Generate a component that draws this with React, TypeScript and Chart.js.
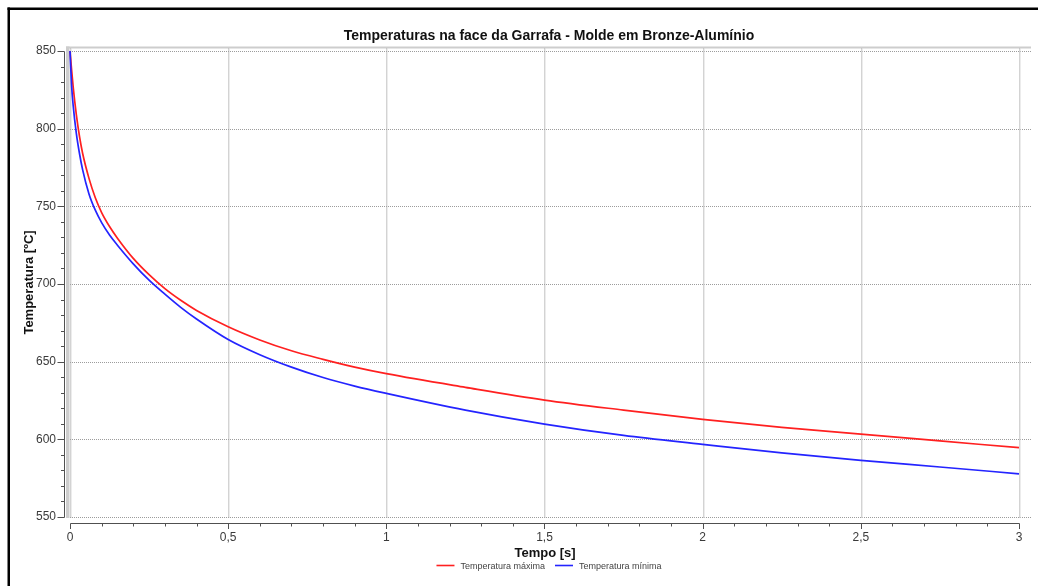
import React, { useEffect, useRef } from "react";
import { Chart, registerables } from "chart.js";

Chart.register(...registerables);

// ---- data ----
const timeS = [0, 0.005, 0.01, 0.02, 0.03, 0.04, 0.06, 0.08, 0.1, 0.125, 0.15, 0.2, 0.25, 0.3, 0.35, 0.4, 0.5, 0.6, 0.7, 0.8, 0.9, 1.0, 1.25, 1.5, 1.75, 2.0, 2.25, 2.5, 2.75, 3.0];
const tempMaxima = [850, 838, 827, 809, 795, 784, 768, 755.5, 746, 737, 729.5, 716.5, 706, 697, 689.5, 683, 672.5, 664, 657, 651.5, 646.5, 642.3, 633.5, 625.3, 618.8, 612.8, 607.7, 603.4, 599, 594.6];
const tempMinima = [850, 828, 815, 797, 784, 773.5, 758, 747.5, 739.5, 731.5, 725, 713, 702.5, 693.5, 685, 677.5, 664.3, 654.5, 646.5, 639.8, 634.3, 629.6, 618.8, 609.8, 602.5, 596.8, 591.3, 586.5, 582.2, 577.8];

const xTicks = [0, 0.5, 1, 1.5, 2, 2.5, 3];
const yTicks = [550, 600, 650, 700, 750, 800, 850];
const xMinorStep = 0.1;
const yMinorStep = 10;

const titleText = "Temperaturas na face da Garrafa - Molde em Bronze-Alumínio";
const xTitle = "Tempo [s]";
const yTitle = "Temperatura [ºC]";
const seriesNames = ["Temperatura máxima", "Temperatura mínima"];
const seriesColors = ["#ff2020", "#2424ff"];

const FONT = "'Liberation Sans', Arial, sans-serif";

const decoPlugin = {
  id: "deco",
  beforeDatasetsDraw(chart: any) {
    const { ctx, chartArea: a, scales } = chart;
    const x = scales.x;
    const y = scales.y;
    ctx.save();
    // frame (left bar + top bar)
    ctx.fillStyle = "#cdcdcd";
    ctx.fillRect(a.left - 1, a.top - 0.5, 3.5, a.bottom - a.top + 0.5);
    ctx.fillRect(a.left - 1, a.top - 0.5, a.right - a.left + 1, 2);
    // dotted grid
    ctx.strokeStyle = "#9c9c9c";
    ctx.lineWidth = 1;
    ctx.setLineDash([1, 1]);
    for (const v of yTicks) {
      const py = Math.round(y.getPixelForValue(v)) + 0.5;
      ctx.beginPath();
      ctx.moveTo(a.left + 3, py);
      ctx.lineTo(a.right, py);
      ctx.stroke();
    }
    for (const v of xTicks) {
      const px = Math.round(x.getPixelForValue(v)) + 0.5;
      ctx.strokeStyle = "#a8a8a8";
      ctx.beginPath();
      ctx.moveTo(px, a.top + 1.5);
      ctx.lineTo(px, a.bottom);
      ctx.stroke();
      ctx.strokeStyle = "#dadada";
      ctx.beginPath();
      ctx.moveTo(px + 1, a.top + 1.5);
      ctx.lineTo(px + 1, a.bottom);
      ctx.stroke();
    }
    ctx.restore();
  },
  afterDraw(chart: any) {
    const { ctx, chartArea: a, scales } = chart;
    const x = scales.x;
    const y = scales.y;
    ctx.save();
    ctx.setLineDash([]);
    ctx.strokeStyle = "#505050";
    ctx.lineWidth = 1;
    // y axis
    const ax = a.left - 2.5;
    const yTop = Math.round(y.getPixelForValue(yTicks[yTicks.length - 1])) + 0.5;
    const yBot = Math.round(y.getPixelForValue(yTicks[0])) + 0.5;
    ctx.beginPath();
    ctx.moveTo(ax, yTop);
    ctx.lineTo(ax, yBot);
    for (let v = yTicks[0]; v <= yTicks[yTicks.length - 1] + 0.001; v += yMinorStep) {
      const py = Math.round(y.getPixelForValue(v)) + 0.5;
      const major = Math.abs(v % 50) < 0.001;
      ctx.moveTo(ax - (major ? 7 : 3.5), py);
      ctx.lineTo(ax, py);
    }
    ctx.stroke();
    // x axis
    const ay = a.bottom + 5.5;
    const xL = Math.round(x.getPixelForValue(xTicks[0])) + 0.5;
    const xR = Math.round(x.getPixelForValue(xTicks[xTicks.length - 1])) + 0.5;
    ctx.beginPath();
    ctx.moveTo(xL, ay);
    ctx.lineTo(xR, ay);
    for (let i = 0; i <= 30; i++) {
      const v = i * xMinorStep;
      const px = Math.round(x.getPixelForValue(v)) + 0.5;
      const major = i % 5 === 0;
      ctx.moveTo(px, ay);
      ctx.lineTo(px, ay + (major ? 5.5 : 3));
    }
    ctx.stroke();

    // outer black border (cropped on right/bottom)
    ctx.fillStyle = "#000";
    ctx.fillRect(7.5, 7.5, 1040, 2.5);
    ctx.fillRect(7.5, 7.5, 2.5, 600);

    // title
    ctx.fillStyle = "#111";
    ctx.textAlign = "center";
    ctx.textBaseline = "alphabetic";
    ctx.font = `bold 14px ${FONT}`;
    ctx.fillText(titleText, (a.left + a.right) / 2, 40);

    // x title
    ctx.font = `bold 13px ${FONT}`;
    ctx.fillText(xTitle, (xL + xR) / 2, 556.5);

    // y title
    ctx.save();
    ctx.translate(32.5, (yTop + yBot) / 2 - 2);
    ctx.rotate(-Math.PI / 2);
    ctx.fillText(yTitle, 0, 0);
    ctx.restore();

    // legend
    ctx.font = `9px ${FONT}`;
    ctx.textAlign = "left";
    const lineW = 18;
    const gapLT = 6;
    const gapItems = 10;
    const widths = seriesNames.map((n) => ctx.measureText(n).width);
    const total = widths.reduce((s, w) => s + lineW + gapLT + w, 0) + gapItems;
    let cx = (a.left + a.right) / 2 - total / 2;
    seriesNames.forEach((n, i) => {
      ctx.strokeStyle = seriesColors[i];
      ctx.lineWidth = 1.6;
      ctx.beginPath();
      ctx.moveTo(cx, 565.5);
      ctx.lineTo(cx + lineW, 565.5);
      ctx.stroke();
      ctx.fillStyle = "#444";
      ctx.fillText(n, cx + lineW + gapLT, 569);
      cx += lineW + gapLT + widths[i] + gapItems;
    });
    ctx.restore();
  },
};

export default function App() {
  const ref = useRef<HTMLCanvasElement>(null);
  useEffect(() => {
    const maxPts = timeS.map((t, i) => ({ x: t, y: tempMaxima[i] }));
    const minPts = timeS.map((t, i) => ({ x: t, y: tempMinima[i] }));
    const chart = new Chart(ref.current as HTMLCanvasElement, {
      type: "line",
      data: {
        datasets: [
          {
            label: seriesNames[0],
            data: maxPts,
            borderColor: seriesColors[0],
            backgroundColor: seriesColors[0],
            borderWidth: 1.7,
            pointRadius: 0,
            cubicInterpolationMode: "monotone",
            fill: false,
            order: 1,
          },
          {
            label: seriesNames[1],
            data: minPts,
            borderColor: seriesColors[1],
            backgroundColor: seriesColors[1],
            borderWidth: 1.7,
            pointRadius: 0,
            cubicInterpolationMode: "monotone",
            fill: false,
            order: 0,
          },
        ],
      },
      options: {
        responsive: false,
        animation: false,
        devicePixelRatio: 1,
        layout: { padding: { left: 0, top: 47, right: 7, bottom: 0 } },
        plugins: {
          legend: { display: false },
          title: { display: false },
          tooltip: { enabled: false },
        },
        events: [],
        scales: {
          x: {
            type: "linear",
            min: -3 / 316.33,
            max: 3 + 12 / 316.33,
            afterBuildTicks: (s: any) => {
              s.ticks = xTicks.map((v) => ({ value: v }));
            },
            afterFit: (s: any) => {
              s.height = 68;
            },
            grid: { display: false, drawTicks: false, tickLength: 0 },
            border: { display: false },
            ticks: {
              padding: 12,
              autoSkip: false,
              maxRotation: 0,
              color: "#3a3a3a",
              font: { family: FONT, size: 12 },
              callback: (v: any) => String(v).replace(".", ","),
            },
          },
          y: {
            type: "linear",
            min: 550 - 1 / 1.5533,
            max: 850 + 4 / 1.5533,
            afterBuildTicks: (s: any) => {
              s.ticks = yTicks.map((v) => ({ value: v }));
            },
            afterFit: (s: any) => {
              s.width = 67;
            },
            grid: { display: false, drawTicks: false, tickLength: 0 },
            border: { display: false },
            ticks: {
              padding: 11,
              autoSkip: false,
              color: "#3a3a3a",
              font: { family: FONT, size: 12 },
              callback: (v: any) => String(v),
            },
          },
        },
      },
      plugins: [decoPlugin],
    });
    return () => chart.destroy();
  }, []);
  return (
    <div style={{ position: "fixed", left: 0, top: 0, width: 1038, height: 586, background: "#fff" }}>
      <canvas ref={ref} width={1038} height={586} style={{ display: "block" }} />
    </div>
  );
}
